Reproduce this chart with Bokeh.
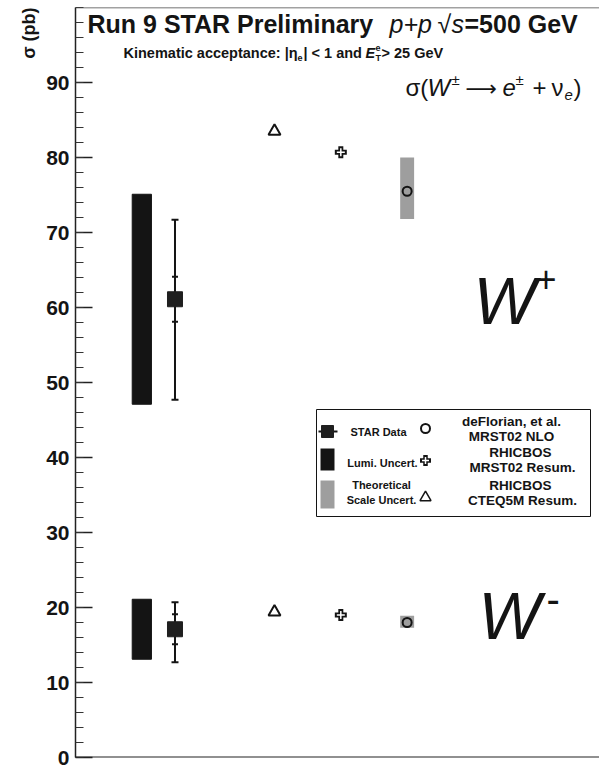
import math
from bokeh.plotting import figure
from bokeh.models import (Range1d, FixedTicker, Span, Whisker, TeeHead,
                          ColumnDataSource, Label, BoxAnnotation, Title)
from bokeh.embed import file_html
from bokeh.resources import INLINE

# ---- measured W cross sections (pb), STAR Run 9, sqrt(s) = 500 GeV ----
channels = ["W+", "W-"]
star_value = [61.1, 17.1]
star_stat = [3.0, 2.0]
star_err_up = [10.6, 3.6]      # total (stat+syst) upward
star_err_down = [13.4, 4.4]    # total (stat+syst) downward
lumi_uncert = [14.0, 4.0]

# ---- theory predictions (pb) ----
rhicbos_cteq5m = [83.5, 19.4]
rhicbos_mrst02 = [80.7, 19.0]
deflorian_nlo = [75.5, 18.0]
scale_band_lo = [71.8, 17.3]
scale_band_hi = [80.0, 18.9]

y_major_ticks = [0, 10, 20, 30, 40, 50, 60, 70, 80, 90]
y_minor_ticks = list(range(0, 101, 2))

# horizontal slots for each group of marks
X_LUMI, X_STAR, X_CTEQ, X_MRST, X_NLO = 1.0, 1.5, 3.0, 4.0, 5.0

W, H = 599, 767
FRAME_L, FRAME_R, FRAME_T, FRAME_B = 75, 599, 7, 757
XMAX, YMAX = 7.9, 100.0

BLACK = "#141414"
GREY = "#9e9e9e"
FONT = "Liberation Sans"


def X(px):
    return (px - FRAME_L) / (FRAME_R - FRAME_L) * XMAX


def Y(py):
    return (FRAME_B - py) / (FRAME_B - FRAME_T) * YMAX


p = figure(width=W, height=H, output_backend="svg", toolbar_location=None,
           x_range=Range1d(0, XMAX), y_range=Range1d(0, YMAX),
           min_border_left=FRAME_L, min_border_right=W - FRAME_R,
           min_border_top=FRAME_T, min_border_bottom=H - FRAME_B)
p.outline_line_color = None
p.background_fill_color = "white"
p.border_fill_color = "white"
p.xgrid.visible = False
p.ygrid.visible = False
p.xaxis.visible = False

ax = p.yaxis[0]
ax.ticker = FixedTicker(ticks=y_major_ticks, minor_ticks=y_minor_ticks)
ax.major_tick_in = 17
ax.major_tick_out = 0
ax.minor_tick_in = 8
ax.minor_tick_out = 0
ax.axis_line_width = 1.5
ax.axis_line_color = "#222222"
ax.major_tick_line_width = 1.5
ax.major_tick_line_color = "#222222"
ax.minor_tick_line_width = 1.2
ax.minor_tick_line_color = "#333333"
ax.major_label_text_font = FONT
ax.major_label_text_font_style = "bold"
ax.major_label_text_font_size = "21px"
ax.major_label_text_color = BLACK
ax.major_label_standoff = 6

# vertical axis title, at the top end of the axis
p.add_layout(Title(text="σ (pb)", align="right", text_font=FONT,
                   text_font_size="18px", text_font_style="bold",
                   text_color=BLACK, standoff=9, offset=0), "left")

# frame top and bottom edges
p.add_layout(Span(location=0, dimension="width", line_color="#222222", line_width=2))
p.add_layout(Span(location=YMAX, dimension="width", line_color="#444444", line_width=1.5))

# ---- luminosity uncertainty boxes ----
lumi_src = ColumnDataSource(dict(
    x=[X_LUMI] * 2,
    top=[v + l for v, l in zip(star_value, lumi_uncert)],
    bottom=[v - l for v, l in zip(star_value, lumi_uncert)]))
p.vbar(x="x", top="top", bottom="bottom", width=0.29, source=lumi_src,
       fill_color=BLACK, line_color=BLACK)

# ---- STAR data with total and statistical error bars ----
star_src = ColumnDataSource(dict(
    x=[X_STAR] * 2, y=star_value,
    up=[v + e for v, e in zip(star_value, star_err_up)],
    dn=[v - e for v, e in zip(star_value, star_err_down)],
    sup=[v + s for v, s in zip(star_value, star_stat)],
    sdn=[v - s for v, s in zip(star_value, star_stat)]))
p.add_layout(Whisker(source=star_src, base="x", upper="up", lower="dn",
                     dimension="height", line_color=BLACK, line_width=2,
                     upper_head=TeeHead(size=7, line_width=2, line_color=BLACK),
                     lower_head=TeeHead(size=7, line_width=2, line_color=BLACK)))
p.add_layout(Whisker(source=star_src, base="x", upper="sup", lower="sdn",
                     dimension="height", line_alpha=0,
                     upper_head=TeeHead(size=6, line_width=2, line_color=BLACK),
                     lower_head=TeeHead(size=6, line_width=2, line_color=BLACK)))
p.scatter(x="x", y="y", source=star_src, marker="square", size=15,
          fill_color="#1f1f1f", line_color="#1f1f1f", level="overlay")

# ---- theory ----
p.vbar(x=[X_NLO] * 2, top=scale_band_hi, bottom=scale_band_lo, width=0.21,
       fill_color=GREY, line_color=None)
p.scatter(x=[X_NLO] * 2, y=deflorian_nlo, marker="circle", size=9,
          fill_color=None, line_color=BLACK, line_width=2)
p.scatter(x=[X_MRST] * 2, y=rhicbos_mrst02, marker="cross", size=12,
          line_color=BLACK, line_width=5)
p.scatter(x=[X_MRST] * 2, y=rhicbos_mrst02, marker="cross", size=8,
          line_color="white", line_width=1.5)
p.scatter(x=[X_CTEQ] * 2, y=rhicbos_cteq5m, marker="triangle", size=12,
          fill_color=None, line_color=BLACK, line_width=2)


def lab(px, py, text, size, style="bold", align="left", font=FONT):
    p.add_layout(Label(x=X(px), y=Y(py), text=text, text_font=font,
                       text_font_size=f"{size}px", text_font_style=style,
                       text_align=align, text_baseline="middle",
                       text_color=BLACK))


# header
lab(87, 23, "Run 9 STAR Preliminary", 25)
lab(389, 23, "p+p", 25, style="italic")
lab(437, 23, "√", 25, style="normal")
lab(451, 23, "s", 25, style="italic")
lab(464, 23, "=500 GeV", 25)

lab(123, 52, "Kinematic acceptance: |η", 14.5)
lab(297, 57, "e", 9)
lab(303, 52, "| < 1 and ", 14.5)
lab(365, 52, "E", 14.5, style="bold italic")
lab(375, 47, "e", 9)
lab(375, 57, "T", 9)
lab(381, 52, " > 25 GeV", 14.5)

# process label sigma(W+- -> e+- + nu_e)
lab(405, 87, "σ(", 24, style="normal")
lab(427, 87, "W", 24, style="italic")
lab(451, 79, "±", 15, style="normal")
lab(465, 88, "⟶", 22, style="normal", font="DejaVu Sans")
lab(502, 87, "e", 24, style="italic")
lab(515, 79, "±", 15, style="normal")
lab(532, 87, "+", 24, style="normal")
lab(551, 87, "ν", 24, style="normal")
lab(564, 94, "e", 15, style="italic")
lab(573, 87, ")", 24, style="normal")

# channel labels
lab(473, 300, "W", 66, style="italic")
lab(535, 278, "+", 36, style="normal")
lab(478, 615, "W", 66, style="italic")
lab(546, 598, "-", 40, style="normal")

# ---- legend ----
p.add_layout(BoxAnnotation(left=X(316), right=X(590), top=Y(409), bottom=Y(516),
                           fill_color="white", fill_alpha=1.0,
                           line_color=BLACK, line_width=1, line_alpha=1.0))
p.segment(x0=[X(318)], y0=[Y(431)], x1=[X(337)], y1=[Y(431)],
          line_color=BLACK, line_width=2, level="overlay")
p.scatter(x=[X(327)], y=[Y(431)], marker="square", size=12,
          fill_color="#1f1f1f", line_color="#1f1f1f", level="overlay")
p.quad(left=[X(320)], right=[X(334)], top=[Y(448)], bottom=[Y(470)],
       fill_color=BLACK, line_color=None, level="overlay")
p.quad(left=[X(320)], right=[X(334)], top=[Y(480)], bottom=[Y(508)],
       fill_color=GREY, line_color=None, level="overlay")
p.scatter(x=[X(425)], y=[Y(428)], marker="circle", size=9, fill_color=None,
          line_color=BLACK, line_width=2, level="overlay")
p.scatter(x=[X(425)], y=[Y(460)], marker="cross", size=11, line_color=BLACK,
          line_width=4.5, level="overlay")
p.scatter(x=[X(425)], y=[Y(460)], marker="cross", size=7, line_color="white",
          line_width=1.5, level="overlay")
p.scatter(x=[X(425)], y=[Y(497)], marker="triangle", size=11, fill_color=None,
          line_color=BLACK, line_width=1.5, level="overlay")

lab(378, 431, "STAR Data", 11, align="center")
lab(382, 462, "Lumi. Uncert.", 11, align="center")
lab(381, 484, "Theoretical", 11, align="center")
lab(381, 499, "Scale Uncert.", 11, align="center")
lab(511, 421, "deFlorian, et al.", 13.5, align="center")
lab(511, 436, "MRST02 NLO", 13.5, align="center")
lab(520, 452, "RHICBOS", 13.5, align="center")
lab(522, 467, "MRST02 Resum.", 13.5, align="center")
lab(520, 485, "RHICBOS", 13.5, align="center")
lab(522, 500, "CTEQ5M Resum.", 13.5, align="center")

open("out.html", "w").write(file_html(p, INLINE))
